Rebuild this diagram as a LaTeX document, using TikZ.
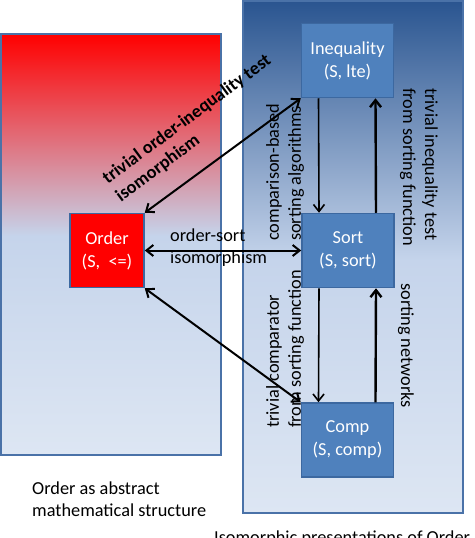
\documentclass[tikz,border=0pt]{standalone}
\usepackage{fontspec}
\setmainfont{Carlito}
\usetikzlibrary{arrows.meta,calc}
\definecolor{frameblue}{RGB}{74,114,168}
\definecolor{nodeblue}{RGB}{79,129,189}
\definecolor{nodeedge}{RGB}{60,104,160}
\definecolor{deepblue}{RGB}{42,85,144}
\definecolor{paleblue}{RGB}{197,212,235}
\definecolor{lightblue}{RGB}{221,230,243}
\definecolor{orderred}{RGB}{255,0,0}

\begin{document}
\begin{tikzpicture}[x=1pt, y=-1pt,
    state/.style={draw=nodeedge, line width=1.5pt, fill=nodeblue, text=white,
                  align=center, font=\fontsize{18.3}{23}\selectfont,
                  minimum width=92pt, minimum height=74pt, inner sep=0pt},
    lbl/.style={font=\fontsize{18.3}{22}\selectfont, align=left, inner sep=0pt},
    boldlbl/.style={lbl, font=\bfseries\fontsize{18.3}{22}\selectfont},
    >={Straight Barb[length=7pt,width=11pt]},
    arr/.style={<->, line width=2pt},
    downarr/.style={->, line width=1.6pt},
    uparr/.style={->, line width=2.4pt}
]
    \clip (0,0) rectangle (474,538);

    % the two panels
    \shade[top color=orderred, bottom color=paleblue] (1,34) rectangle (221,236);
    \shade[top color=paleblue, bottom color=lightblue] (1,236) rectangle (221,455);
    \draw[frameblue, line width=1.5pt] (1,34) rectangle (221,455);

    \shade[top color=deepblue, bottom color=paleblue] (243,1) rectangle (463,260);
    \shade[top color=paleblue, bottom color=lightblue] (243,260) rectangle (463,513);
    \draw[frameblue, line width=1.5pt] (243,1) rectangle (463,513);

    % structures
    \node[state] (ineq) at (347.5,60.5) {Inequality\\(S, lte)};
    \node[state] (sort) at (348,250.5) {Sort\\(S, sort)};
    \node[state] (comp) at (347.5,440) {Comp\\(S, comp)};
    \node[state, fill=orderred, minimum width=74pt] (order) at (107,250.5) {Order\\(S,\ \ <=)};

    % isomorphisms
    \draw[arr] (order.north east) -- (ineq.south west);
    \draw[arr] (order.east) -- (sort.west);
    \draw[arr] (order.south east) -- (comp.north west);

    \draw[downarr] ([xshift=-29pt]ineq.south) -- ([xshift=-29pt]sort.north);
    \draw[uparr] ([xshift=28pt]sort.north) -- ([xshift=28pt]ineq.south);
    \draw[downarr] ([xshift=-29pt]sort.south) -- ([xshift=-29pt]comp.north);
    \draw[uparr] ([xshift=28pt]comp.north) -- ([xshift=28pt]sort.south);

    % labels
    \node[boldlbl, rotate=36.5, anchor=north west] (oinlbl) at (100,174) {trivial order-inequality test\\isomorphism};
    \node[lbl, anchor=north west] (oslbl) at (170,229) {order-sort\\isomorphism};
    \node[lbl, rotate=90, anchor=north west] (cmplbl) at (266,241) {comparison-based\\sorting algorithms};
    \node[lbl, rotate=-90, anchor=north west] (tinlbl) at (438,88) {trivial inequality test\\from sorting function};
    \node[lbl, rotate=90, anchor=north west] (tcplbl) at (266,428) {trivial comparator\\from sorting function};
    \node[lbl, rotate=-90, anchor=north west] (snlbl) at (414,283) {sorting networks};

    \node[lbl, anchor=north west] (abslbl) at (32,482) {Order as abstract\\mathematical structure};
    \node[lbl, anchor=north west] (isolbl) at (214,531) {Isomorphic presentations of Order};
\end{tikzpicture}
\end{document}
